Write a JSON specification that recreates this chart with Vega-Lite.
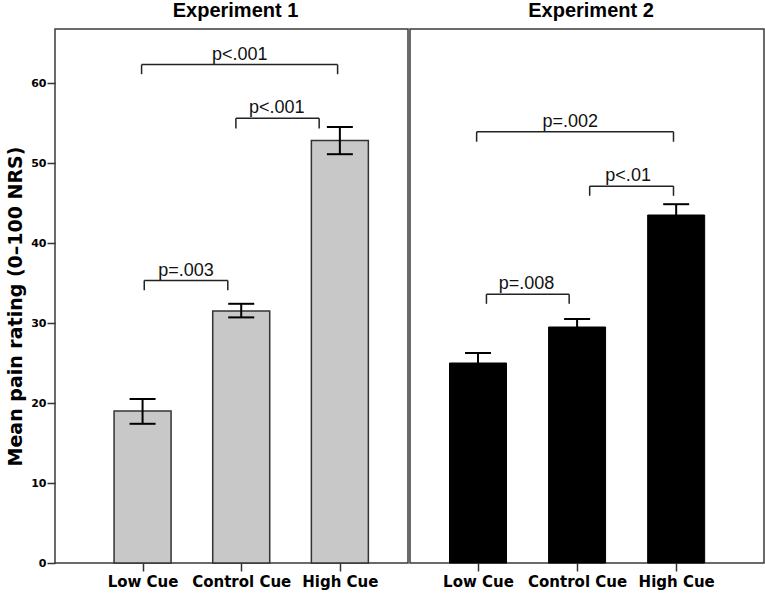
{
  "$schema": "https://vega.github.io/schema/vega-lite/v6.json",
  "padding": {"left": 5, "top": 0, "right": 0, "bottom": 0},
  "background": "white",
  "spacing": 0,
  "config": {
    "view": {"stroke": "#3a3a3a", "strokeWidth": 1.5},
    "axis": {"grid": false, "domain": false},
    "concat": {"spacing": 0}
  },
  "datasets": {
    "bars": [
      {"exp": "Experiment 1", "cue": "Low Cue", "idx": 1, "mean": 19.0, "lo": 17.4, "hi": 20.5},
      {"exp": "Experiment 1", "cue": "Control Cue", "idx": 2, "mean": 31.5, "lo": 30.7, "hi": 32.4},
      {"exp": "Experiment 1", "cue": "High Cue", "idx": 3, "mean": 52.8, "lo": 51.1, "hi": 54.5},
      {"exp": "Experiment 2", "cue": "Low Cue", "idx": 1, "mean": 25.0, "lo": 23.75, "hi": 26.25},
      {"exp": "Experiment 2", "cue": "Control Cue", "idx": 2, "mean": 29.5, "lo": 28.5, "hi": 30.5},
      {"exp": "Experiment 2", "cue": "High Cue", "idx": 3, "mean": 43.5, "lo": 42.15, "hi": 44.85}
    ],
    "brackets": [
      {"exp": "Experiment 1", "label": "p=.003", "xa": 1.017, "xb": 1.864, "xm": 1.44, "y": 35.3, "yd": 34.1},
      {"exp": "Experiment 1", "label": "p<.001", "xa": 1.946, "xb": 2.79, "xm": 2.36, "y": 55.6, "yd": 54.3},
      {"exp": "Experiment 1", "label": "p<.001", "xa": 0.99, "xb": 2.977, "xm": 1.985, "y": 62.3, "yd": 61.1},
      {"exp": "Experiment 2", "label": "p=.002", "xa": 0.986, "xb": 2.973, "xm": 1.93, "y": 53.9, "yd": 52.66},
      {"exp": "Experiment 2", "label": "p<.01", "xa": 2.127, "xb": 2.973, "xm": 2.515, "y": 47.1, "yd": 45.9},
      {"exp": "Experiment 2", "label": "p=.008", "xa": 1.085, "xb": 1.92, "xm": 1.49, "y": 33.6, "yd": 32.4}
    ]
  },
  "hconcat": [
    {
      "width": 353,
      "height": 534,
      "title": {"text": "Experiment 1", "font": "Liberation Sans", "fontSize": 20, "fontWeight": "bold", "color": "black", "offset": 8, "dx": 4},
      "layer": [
        {
          "data": {"name": "bars"},
          "transform": [{"filter": "datum.exp == 'Experiment 1'"}],
          "mark": {"type": "bar", "orient": "vertical", "size": 57, "fill": "#c8c8c8", "stroke": "#333333", "strokeWidth": 1.5},
          "encoding": {
            "x": {"field": "idx", "type": "quantitative",
              "scale": {"domain": [0.163, 3.64], "nice": false, "zero": false},
              "axis": {"values": [1, 2, 3], "labelExpr": "datum.value == 1 ? 'Low Cue' : datum.value == 2 ? 'Control Cue' : 'High Cue'", "title": null, "tickSize": 8, "tickWidth": 1.5, "tickColor": "#333333", "labelFont": "DejaVu Sans", "labelFontWeight": "bold", "labelFontSize": 15, "labelColor": "black", "labelPadding": 3, "labelOverlap": false, "labelFlush": false, "grid": false, "domain": false}},
            "y": {"field": "mean", "type": "quantitative",
              "scale": {"domain": [0, 66.75], "nice": false},
              "axis": {"values": [0, 10, 20, 30, 40, 50, 60], "format": "d", "title": "Mean pain rating (0–100 NRS)", "titleFont": "DejaVu Sans", "titleFontSize": 19, "titleFontWeight": "bold", "titleColor": "black", "titleX": -34, "titleY": 277, "titleBaseline": "alphabetic", "titleAngle": -90, "titleAlign": "center", "labelFont": "DejaVu Sans", "labelFontWeight": "bold", "labelFontSize": 11, "labelColor": "black", "tickSize": 8, "tickWidth": 1.5, "tickColor": "#333333", "labelPadding": 1, "grid": false, "domain": false}}
          }
        },
        {
          "data": {"name": "bars"},
          "transform": [{"filter": "datum.exp == 'Experiment 1'"}],
          "mark": {"type": "rule", "strokeWidth": 2, "color": "black"},
          "encoding": {"x": {"field": "idx", "type": "quantitative"}, "y": {"field": "lo", "type": "quantitative"}, "y2": {"field": "hi"}}
        },
        {
          "data": {"name": "bars"},
          "transform": [{"filter": "datum.exp == 'Experiment 1'"}],
          "mark": {"type": "tick", "orient": "horizontal", "size": 26, "thickness": 2, "color": "black", "opacity": 1},
          "encoding": {"x": {"field": "idx", "type": "quantitative"}, "y": {"field": "hi", "type": "quantitative"}}
        },
        {
          "data": {"name": "bars"},
          "transform": [{"filter": "datum.exp == 'Experiment 1'"}],
          "mark": {"type": "tick", "orient": "horizontal", "size": 26, "thickness": 2, "color": "black", "opacity": 1},
          "encoding": {"x": {"field": "idx", "type": "quantitative"}, "y": {"field": "lo", "type": "quantitative"}}
        },
        {
          "data": {"name": "brackets"},
          "transform": [{"filter": "datum.exp == 'Experiment 1'"}],
          "mark": {"type": "rule", "strokeWidth": 1.5, "color": "#222222"},
          "encoding": {"x": {"field": "xa", "type": "quantitative"}, "x2": {"field": "xb"}, "y": {"field": "y", "type": "quantitative"}}
        },
        {
          "data": {"name": "brackets"},
          "transform": [{"filter": "datum.exp == 'Experiment 1'"}],
          "mark": {"type": "rule", "strokeWidth": 1.5, "color": "#222222"},
          "encoding": {"x": {"field": "xa", "type": "quantitative"}, "y": {"field": "y", "type": "quantitative"}, "y2": {"field": "yd"}}
        },
        {
          "data": {"name": "brackets"},
          "transform": [{"filter": "datum.exp == 'Experiment 1'"}],
          "mark": {"type": "rule", "strokeWidth": 1.5, "color": "#222222"},
          "encoding": {"x": {"field": "xb", "type": "quantitative"}, "y": {"field": "y", "type": "quantitative"}, "y2": {"field": "yd"}}
        },
        {
          "data": {"name": "brackets"},
          "transform": [{"filter": "datum.exp == 'Experiment 1'"}],
          "mark": {"type": "text", "font": "Liberation Sans", "fontSize": 18, "color": "#111111", "align": "center", "baseline": "alphabetic", "dy": -5},
          "encoding": {"x": {"field": "xm", "type": "quantitative"}, "y": {"field": "y", "type": "quantitative"}, "text": {"field": "label"}}
        }
      ]
    },
    {
      "width": 354,
      "height": 534,
      "title": {"text": "Experiment 2", "font": "Liberation Sans", "fontSize": 20, "fontWeight": "bold", "color": "black", "offset": 8, "dx": 4},
      "layer": [
        {
          "data": {"name": "bars"},
          "transform": [{"filter": "datum.exp == 'Experiment 2'"}],
          "mark": {"type": "bar", "orient": "vertical", "size": 57, "fill": "black", "stroke": "black", "strokeWidth": 1},
          "encoding": {
            "x": {"field": "idx", "type": "quantitative",
              "scale": {"domain": [0.364, 3.836], "nice": false, "zero": false},
              "axis": {"values": [1, 2, 3], "labelExpr": "datum.value == 1 ? 'Low Cue' : datum.value == 2 ? 'Control Cue' : 'High Cue'", "title": null, "tickSize": 8, "tickWidth": 1.5, "tickColor": "#333333", "labelFont": "DejaVu Sans", "labelFontWeight": "bold", "labelFontSize": 15, "labelColor": "black", "labelPadding": 3, "labelOverlap": false, "labelFlush": false, "grid": false, "domain": false}},
            "y": {"field": "mean", "type": "quantitative",
              "scale": {"domain": [0, 66.75], "nice": false},
              "axis": null}
          }
        },
        {
          "data": {"name": "bars"},
          "transform": [{"filter": "datum.exp == 'Experiment 2'"}],
          "mark": {"type": "rule", "strokeWidth": 2, "color": "black"},
          "encoding": {"x": {"field": "idx", "type": "quantitative"}, "y": {"field": "lo", "type": "quantitative"}, "y2": {"field": "hi"}}
        },
        {
          "data": {"name": "bars"},
          "transform": [{"filter": "datum.exp == 'Experiment 2'"}],
          "mark": {"type": "tick", "orient": "horizontal", "size": 26, "thickness": 2, "color": "black", "opacity": 1},
          "encoding": {"x": {"field": "idx", "type": "quantitative"}, "y": {"field": "hi", "type": "quantitative"}}
        },
        {
          "data": {"name": "brackets"},
          "transform": [{"filter": "datum.exp == 'Experiment 2'"}],
          "mark": {"type": "rule", "strokeWidth": 1.5, "color": "#222222"},
          "encoding": {"x": {"field": "xa", "type": "quantitative"}, "x2": {"field": "xb"}, "y": {"field": "y", "type": "quantitative"}}
        },
        {
          "data": {"name": "brackets"},
          "transform": [{"filter": "datum.exp == 'Experiment 2'"}],
          "mark": {"type": "rule", "strokeWidth": 1.5, "color": "#222222"},
          "encoding": {"x": {"field": "xa", "type": "quantitative"}, "y": {"field": "y", "type": "quantitative"}, "y2": {"field": "yd"}}
        },
        {
          "data": {"name": "brackets"},
          "transform": [{"filter": "datum.exp == 'Experiment 2'"}],
          "mark": {"type": "rule", "strokeWidth": 1.5, "color": "#222222"},
          "encoding": {"x": {"field": "xb", "type": "quantitative"}, "y": {"field": "y", "type": "quantitative"}, "y2": {"field": "yd"}}
        },
        {
          "data": {"name": "brackets"},
          "transform": [{"filter": "datum.exp == 'Experiment 2'"}],
          "mark": {"type": "text", "font": "Liberation Sans", "fontSize": 18, "color": "#111111", "align": "center", "baseline": "alphabetic", "dy": -5},
          "encoding": {"x": {"field": "xm", "type": "quantitative"}, "y": {"field": "y", "type": "quantitative"}, "text": {"field": "label"}}
        }
      ]
    }
  ]
}
